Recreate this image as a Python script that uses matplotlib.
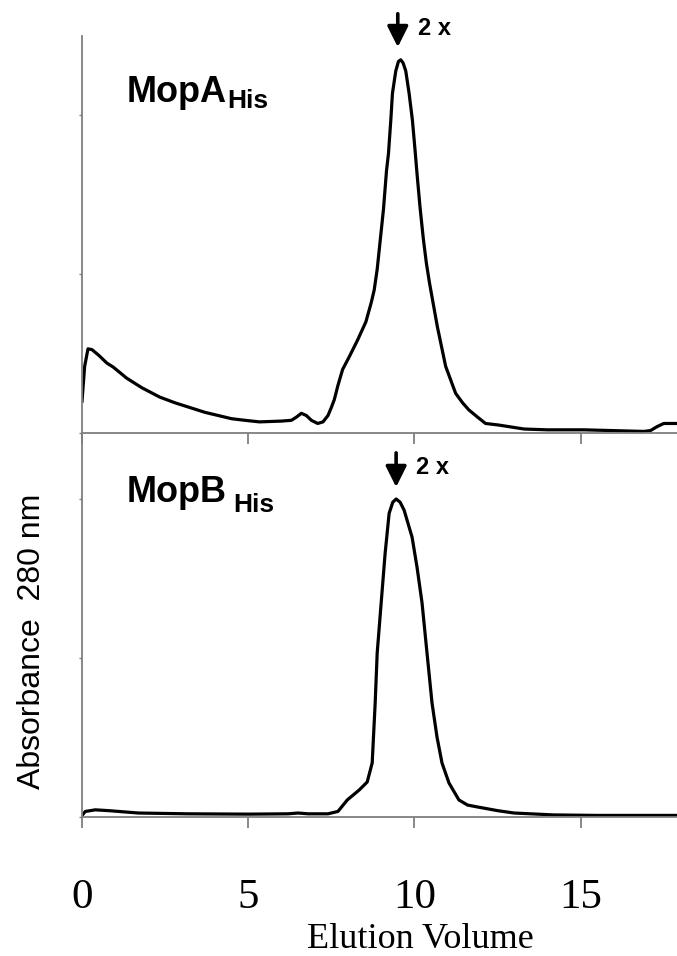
#!/usr/bin/env python3
"""
Gel filtration profiles of MopA-His and MopB-His (absorbance at 280 nm).
"""
import matplotlib.pyplot as plt

SANS = "Liberation Sans"
SERIF = "Liberation Serif"

# elution volume (ml) and absorbance (arbitrary units)
mopa_x = [0.0, 0.08, 0.18, 0.30, 0.50, 0.75, 0.94, 1.34, 1.80, 2.34, 2.80, 3.25,
          3.70, 4.10, 4.50, 4.90, 5.34, 6.00, 6.30, 6.45, 6.60, 6.75, 6.90, 7.09,
          7.25, 7.40, 7.50, 7.59, 7.70, 7.84, 8.04, 8.29, 8.54, 8.70, 8.79, 8.88,
          8.94, 9.07, 9.16, 9.22, 9.29, 9.34, 9.44, 9.52, 9.59, 9.66, 9.74, 9.84,
          9.94, 10.02, 10.08, 10.17, 10.27, 10.36, 10.45, 10.69, 10.94, 11.24,
          11.45, 11.64, 11.90, 12.14, 12.54, 13.30, 14.00, 15.10, 16.00, 16.90,
          17.10, 17.30, 17.50, 17.90]
mopa_y = [0.20, 0.42, 0.53, 0.525, 0.49, 0.44, 0.415, 0.346, 0.285, 0.226, 0.19,
          0.16, 0.13, 0.11, 0.09, 0.08, 0.07, 0.075, 0.08, 0.10, 0.124, 0.11, 0.08,
          0.06, 0.07, 0.11, 0.16, 0.21, 0.30, 0.40, 0.48, 0.585, 0.70, 0.82, 0.90,
          1.03, 1.15, 1.41, 1.65, 1.76, 1.97, 2.14, 2.28, 2.34, 2.35, 2.33, 2.28,
          2.14, 1.97, 1.78, 1.63, 1.42, 1.22, 1.07, 0.95, 0.67, 0.42, 0.25, 0.19,
          0.145, 0.10, 0.06, 0.05, 0.025, 0.02, 0.02, 0.015, 0.01, 0.015, 0.04,
          0.06, 0.06]

mopb_x = [0.0, 0.10, 0.40, 0.80, 1.70, 3.20, 5.00, 6.20, 6.50, 6.80, 7.40, 7.70,
          7.98, 8.34, 8.58, 8.73, 8.82, 8.88, 9.00, 9.12, 9.24, 9.35, 9.45, 9.57,
          9.69, 9.93, 10.08, 10.23, 10.38, 10.53, 10.68, 10.83, 11.04, 11.34,
          11.60, 11.90, 12.50, 13.00, 14.20, 15.50, 17.90]
mopb_y = [0.01, 0.035, 0.045, 0.04, 0.025, 0.02, 0.018, 0.02, 0.025, 0.02, 0.02,
          0.035, 0.107, 0.17, 0.22, 0.34, 0.717, 1.03, 1.346, 1.66, 1.91, 1.98,
          2.0, 1.98, 1.93, 1.76, 1.57, 1.346, 1.03, 0.717, 0.503, 0.34, 0.214,
          0.107, 0.075, 0.063, 0.04, 0.025, 0.013, 0.01, 0.01]

xticks = [0, 5, 10, 15]
xticklabels = ["0", "5", "10", "15"]

W, H = 677, 956
fig = plt.figure(figsize=(W / 100, H / 100), dpi=100)

left = 82 / W
ax1 = fig.add_axes([left, 1 - 433 / H, 1 - left, (433 - 36) / H])
ax2 = fig.add_axes([left, 1 - 817 / H, 1 - left, (817 - 433) / H])

axis_grey = "#7f7f7f"
for ax in (ax1, ax2):
    ax.set_xlim(0, 17.9)
    for side in ("top", "right"):
        ax.spines[side].set_visible(False)
    for side in ("left", "bottom"):
        ax.spines[side].set_color(axis_grey)
        ax.spines[side].set_linewidth(1.3)
    ax.set_xticks(xticks)
    ax.tick_params(axis="x", direction="out", length=8, width=1.3, color=axis_grey)
    ax.tick_params(axis="y", direction="out", length=2, width=1.0, color=axis_grey)
    ax.set_yticklabels([])
    ax.patch.set_visible(False)

ax1.set_ylim(0, 2.5)
ax1.set_yticks([0, 1, 2])
ax1.set_xticklabels([])
ax2.set_ylim(0, 2.415)
ax2.set_yticks([0, 1, 2])
ax2.set_xticklabels(xticklabels, family=SERIF, fontsize=31)
ax2.tick_params(axis="x", pad=36)

ax1.plot(mopa_x, mopa_y, color="black", lw=2.3)
ax2.plot(mopb_x, mopb_y, color="black", lw=2.3)

# panel names with subscript
ax1.text(1.35, 2.085, "MopA", family=SANS, fontweight="bold", fontsize=26,
         va="baseline")
ax1.text(4.38, 2.045, "His", family=SANS, fontweight="bold", fontsize=19,
         va="baseline")
ax2.text(1.35, 1.98, "MopB", family=SANS, fontweight="bold", fontsize=26,
         va="baseline")
ax2.text(4.55, 1.918, "His", family=SANS, fontweight="bold", fontsize=19,
         va="baseline")

# "2 x" markers above the peaks
arrow = dict(arrowstyle="-|>,head_width=0.35,head_length=0.7", lw=2.6,
             color="black", mutation_scale=18, shrinkA=0, shrinkB=0)
ax1.annotate("", xy=(9.5, 2.43), xytext=(9.5, 2.64), arrowprops=arrow,
             annotation_clip=False)
ax1.text(10.1, 2.55, "2 x", family=SANS, fontweight="bold", fontsize=17,
         va="center", clip_on=False)
ax2.annotate("", xy=(9.45, 2.075), xytext=(9.45, 2.29), arrowprops=arrow,
             annotation_clip=False)
ax2.text(10.05, 2.2, "2 x", family=SANS, fontweight="bold", fontsize=17,
         va="center", clip_on=False)

fig.text(32 / W, 1 - 641 / H, "Absorbance  280 nm", family=SANS, fontsize=23,
         rotation=90, ha="center", va="center")
fig.text(420 / W, 1 - 940 / H, "Elution Volume", family=SERIF, fontsize=26,
         ha="center", va="center")

fig.savefig("out.png", dpi=100)
